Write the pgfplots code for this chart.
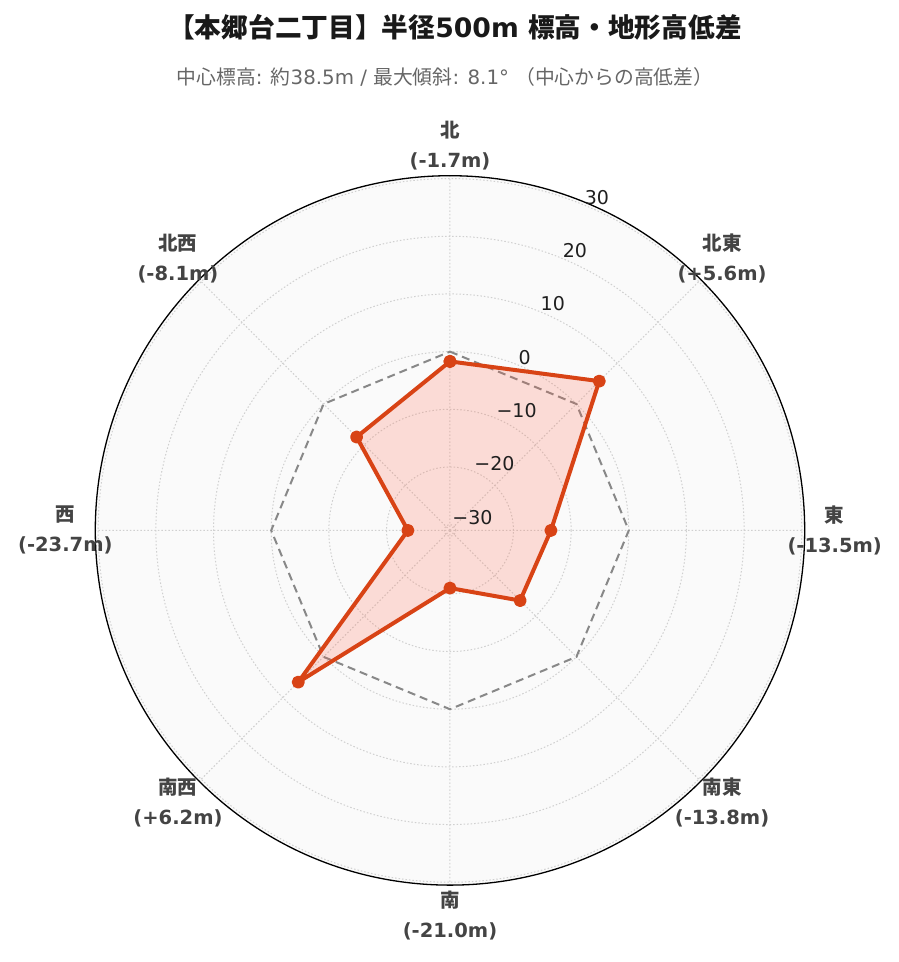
\documentclass[border=0pt]{standalone}
\usepackage{pgfplots}
\usepackage{pgfplotstable}
\pgfplotsset{compat=1.18}
\usepgfplotslibrary{polar}
\usepackage{fontspec}
\setmainfont{DejaVu Sans}
\newfontfamily\jp{Noto Sans CJK JP}
\newcommand\J[1]{{\jp #1}}
\definecolor{redc}{HTML}{D84315}
\definecolor{fillc}{HTML}{FF6347}
\definecolor{bgc}{HTML}{FAFAFA}
\definecolor{gridc}{HTML}{D0D0D0}
\definecolor{labc}{HTML}{444444}
\definecolor{refc}{HTML}{888888}

\pgfplotstableread{
angle elev
90 -1.7
45 5.6
0 -13.5
-45 -13.8
-90 -21.0
-135 6.2
-180 -23.7
-225 -8.1
-270 -1.7
}\elevtable

\pgfplotstableread{
angle elev
90 0
45 0
0 0
-45 0
-90 0
-135 0
-180 0
-225 0
-270 0
}\reftable

\tikzset{
  rlab/.style={anchor=west, yshift=8pt, inner sep=0pt, font=\fontsize{19}{22}\selectfont, text=black!88},
  dlab/.style={align=center, text=labc, font=\bfseries\fontsize{19.5}{30}\selectfont},
}

\begin{document}
\begin{tikzpicture}
\useasboundingbox (0,0) rectangle (899pt,-962pt);
\fill[bgc] (450pt,-530.4pt) circle (354.7pt);
\node[font=\bfseries\fontsize{26.7}{30}\selectfont, text=black!90] at (455pt,-27pt) {\J{【本郷台二丁目】半径}500m \J{標高・地形高低差}};
\node[font=\fontsize{19.8}{22}\selectfont, text=black!60] at (445pt,-77pt) {\J{中心標高}: \J{約}38.5m / \J{最大傾斜}: 8.1° \J{（中心からの高低差）}};
\begin{polaraxis}[
  at={(450pt,-530.4pt)}, anchor=center,
  width=709.4pt, height=709.4pt, scale only axis,
  ymin=0, ymax=61.5,
  xtick={0,45,...,315}, xticklabels={},
  ytick={1,11,21,31,41,51,61}, yticklabels={},
  major tick length=0pt,
  grid=major,
  major grid style={gridc, line width=1pt, dash pattern=on 1.5pt off 2pt},
  axis line style={black, line width=1.3pt},
  y axis line style={draw=none},
  clip=false,
]
\addplot[refc, line width=2pt, dash pattern=on 8pt off 5pt, no markers]
  table[x=angle, y expr=\thisrow{elev}+31] {\reftable};
\addplot[redc, line width=4pt, fill=fillc, fill opacity=0.2, draw opacity=1,
  mark=*, mark size=4.5pt, mark options={solid, fill=redc, draw=none, fill opacity=1}, line join=round]
  table[x=angle, y expr=\thisrow{elev}+31] {\elevtable};
\node[rlab] at (axis cs:67.5,1) {−30};
\node[rlab] at (axis cs:67.5,11) {−20};
\node[rlab] at (axis cs:67.5,21) {−10};
\node[rlab] at (axis cs:67.5,31) {0};
\node[rlab] at (axis cs:67.5,41) {10};
\node[rlab] at (axis cs:67.5,51) {20};
\node[rlab] at (axis cs:67.5,61) {30};
\node[dlab] at (axis cs:90,66.7) {\J{北}\\(-1.7m)};
\node[dlab] at (axis cs:45,66.7) {\J{北東}\\(+5.6m)};
\node[dlab] at (axis cs:0,66.7) {\J{東}\\(-13.5m)};
\node[dlab] at (axis cs:-45,66.7) {\J{南東}\\(-13.8m)};
\node[dlab] at (axis cs:-90,66.7) {\J{南}\\(-21.0m)};
\node[dlab] at (axis cs:-135,66.7) {\J{南西}\\(+6.2m)};
\node[dlab] at (axis cs:180,66.7) {\J{西}\\(-23.7m)};
\node[dlab] at (axis cs:135,66.7) {\J{北西}\\(-8.1m)};
\end{polaraxis}
\end{tikzpicture}
\end{document}
